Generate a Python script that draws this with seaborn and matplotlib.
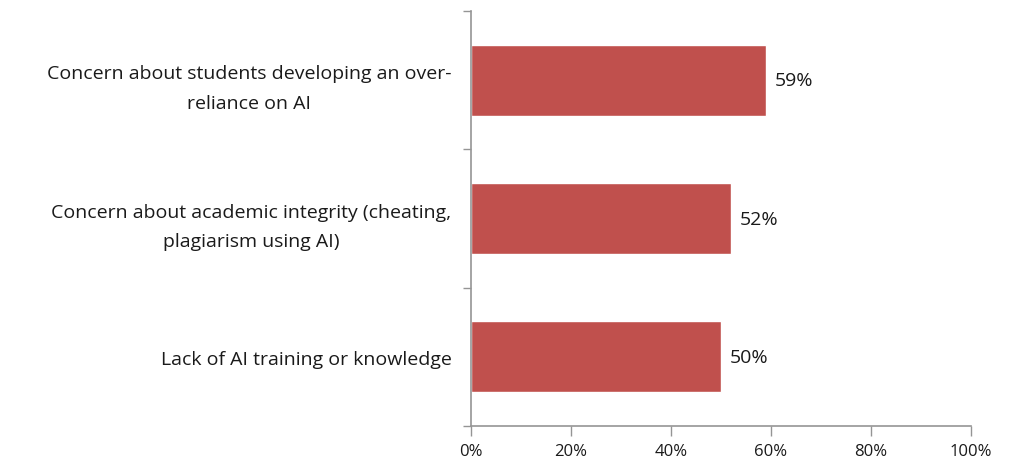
import matplotlib
matplotlib.use('Agg')
import matplotlib.pyplot as plt
import seaborn as sns
import pandas as pd

# Данные графика
categories = [
    "Concern about students developing an over-\nreliance on AI",
    "Concern about academic integrity (cheating,\nplagiarism using AI)",
    "Lack of AI training or knowledge",
]
values = [59, 52, 50]
x_ticks = [0, 20, 40, 60, 80, 100]

BAR_COLOR = "#C0504D"
AXIS_COLOR = "#959595"
TEXT_COLOR = "#1a1a1a"

sns.set_theme(style="white")
plt.rcParams['font.family'] = ['Open Sans', 'DejaVu Sans']

df = pd.DataFrame({"category": categories, "value": values})

fig = plt.figure(figsize=(10.16, 4.64), dpi=100)
ax = fig.add_axes([0.4636, 0.0797, 0.4921, 0.8944])

sns.barplot(data=df, x="value", y="category", color=BAR_COLOR,
            saturation=1, width=0.513, ax=ax)

ax.set_xlim(0, 100)
ax.set_ylim(2.5, -0.5)
ax.set_xticks(x_ticks)
ax.set_xticklabels([f"{t}%" for t in x_ticks], fontsize=12, color=TEXT_COLOR)

# Засечки оси Y между категориями, подписи - по центру категорий
ax.set_yticks([-0.5, 0.5, 1.5, 2.5], minor=False)
ax.set_yticklabels([])
ax.set_yticks([0, 1, 2], minor=True)
ax.set_yticklabels(categories, minor=True, fontsize=14, color=TEXT_COLOR,
                   multialignment="center", linespacing=1.85)
ax.tick_params(axis="y", which="minor", length=0, pad=14)
ax.tick_params(axis="y", which="major", length=6, width=1, color=AXIS_COLOR,
               direction="out", left=True)
ax.tick_params(axis="x", length=7, width=1, color=AXIS_COLOR,
               direction="out", bottom=True, pad=5)

ax.set_xlabel("")
ax.set_ylabel("")
for side in ["top", "right"]:
    ax.spines[side].set_visible(False)
for side in ["left", "bottom"]:
    ax.spines[side].set_color(AXIS_COLOR)
    ax.spines[side].set_linewidth(1.2)

# Подписи значений
for i, v in enumerate(values):
    ax.text(v + 1.8, i, f"{v}%", va="center", ha="left",
            fontsize=14, color=TEXT_COLOR)

fig.savefig("out.png", dpi=100)
